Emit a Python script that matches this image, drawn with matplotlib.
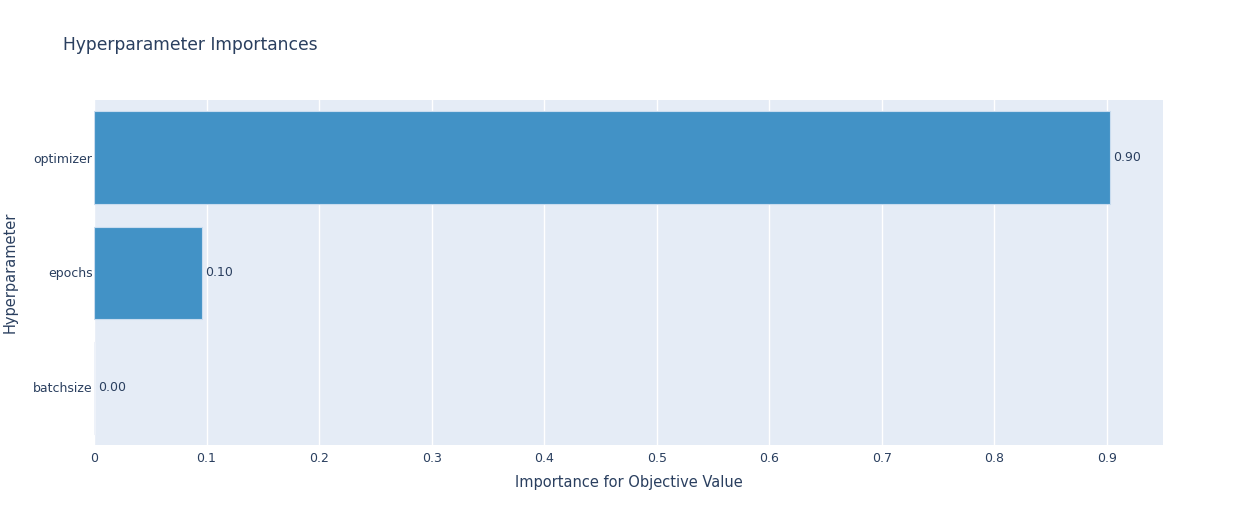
import matplotlib
matplotlib.use("Agg")
import matplotlib.pyplot as plt

params = ["batchsize", "epochs", "optimizer"]
importances = [0.001, 0.096, 0.903]
labels = ["0.00", "0.10", "0.90"]
bar_colors = ["#eef2f9", "#4292c6", "#4292c6"]
edge_colors = ["#eef2f9", "#c9dcef", "#c9dcef"]
xticks = [0, 0.1, 0.2, 0.3, 0.4, 0.5, 0.6, 0.7, 0.8, 0.9]
xtick_labels = ["0", "0.1", "0.2", "0.3", "0.4", "0.5", "0.6", "0.7", "0.8", "0.9"]

W, H = 1244, 525
fig = plt.figure(figsize=(W / 100, H / 100), dpi=100)
plt.rcParams['font.family'] = ['DejaVu Sans']
txt = "#2a3f5f"
L, R, T, B = 94, 1163, 100, 445
ax = fig.add_axes([L / W, 1 - B / H, (R - L) / W, (B - T) / H])
ax.set_facecolor("#E5ECF6")
for s in ax.spines.values():
    s.set_visible(False)
ax.set_xlim(0, 0.95)
ax.set_ylim(-0.5, 2.5)
ax.set_xticks(xticks)
ax.set_xticklabels(xtick_labels)
ax.grid(axis="x", color="white", linewidth=1)
ax.set_axisbelow(True)
ax.tick_params(length=0, labelsize=9, labelcolor=txt, pad=5)
ax.tick_params(axis="y", pad=1)
ax.set_yticks(range(len(params)))
ax.set_yticklabels(params)

ax.barh(range(len(params)), importances, height=0.8, color=bar_colors,
        edgecolor=edge_colors, linewidth=0.8, zorder=2)
for i, (v, lab) in enumerate(zip(importances, labels)):
    ax.annotate(lab, (v, i), xytext=(2, 0), textcoords="offset points",
                va="center", ha="left", fontsize=9, color=txt)

ax.set_xlabel("Importance for Objective Value", fontsize=10.5, color=txt, labelpad=7)
fig.text(10 / W, 1 - 272 / H, "Hyperparameter", rotation=90, fontsize=10.5,
         color=txt, ha="center", va="center")
fig.text(63 / W, 1 - 45 / H, "Hyperparameter Importances", fontsize=12.3,
         color=txt, ha="left", va="center")

fig.savefig("out.png", dpi=100, facecolor="white")
